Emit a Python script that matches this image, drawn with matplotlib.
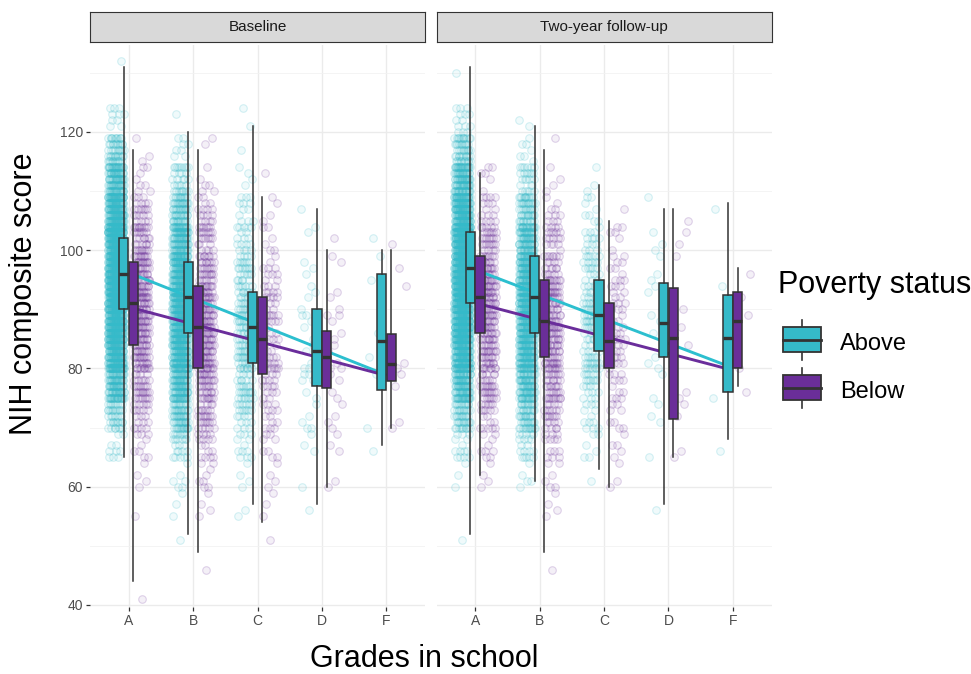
import matplotlib
matplotlib.use("Agg")
import matplotlib.pyplot as plt
from matplotlib.patches import Rectangle

plt.rcParams['font.family'] = ['Liberation Sans', 'DejaVu Sans']

# ---- data ----
grades = ['A', 'B', 'C', 'D', 'F']
periods = ['Baseline', 'Two-year follow-up']
groups = ['Above', 'Below']

# box stats per grade: [whisker low, q1, median, q3, whisker high]
base_above_box = [[65, 90, 96, 102, 131], [52, 86, 92, 98, 120], [57, 81, 87, 93, 121],
                  [57, 77, 83, 90, 107], [67, 76.3, 84.6, 96, 100]]
base_below_box = [[44, 84, 91, 98, 117], [49, 80, 87, 94, 117], [54, 79, 85, 92, 109],
                  [60, 76.7, 82, 86.3, 100], [70, 77.8, 80.7, 85.8, 100]]
fu_above_box = [[52, 91, 97, 103, 131], [61, 86, 92, 99, 121], [63, 83, 89, 95, 111],
                [57, 82, 87.7, 94.4, 107], [68, 76, 85.2, 92.5, 108]]
fu_below_box = [[62, 86, 92, 99, 113], [49, 82, 88, 95, 117], [60, 80, 84.6, 91, 105],
                [65, 71.5, 85.2, 93.6, 107], [77, 80, 88, 93, 97]]

# fitted regression line, value at grade A and at grade F
base_above_fit = [96.2, 78.9]
base_below_fit = [90.4, 78.8]
fu_above_fit = [96.7, 80.1]
fu_below_fit = [91.1, 79.7]

# raw scores as counts per 5-point bin (bins start at 40, 45, ..., 130)
bin_starts = list(range(40, 135, 5))
base_above_pts = [
    [0, 0, 0, 0, 0, 10, 40, 110, 180, 230, 260, 260, 240, 180, 110, 50, 10, 0, 1],
    [0, 0, 1, 3, 6, 25, 65, 110, 150, 170, 170, 150, 110, 65, 30, 8, 1, 0, 0],
    [0, 0, 0, 2, 4, 12, 22, 30, 38, 38, 33, 27, 18, 12, 4, 1, 2, 0, 0],
    [0, 0, 0, 1, 1, 3, 5, 6, 6, 5, 4, 3, 2, 1, 0, 0, 0, 0, 0],
    [0, 0, 0, 0, 0, 1, 1, 1, 1, 1, 0, 2, 1, 0, 0, 0, 0, 0, 0],
]
base_below_pts = [
    [1, 0, 0, 1, 4, 9, 20, 32, 45, 50, 50, 45, 35, 22, 8, 3, 0, 0, 0],
    [0, 1, 0, 4, 8, 16, 28, 40, 48, 48, 45, 35, 25, 16, 6, 2, 0, 0, 0],
    [0, 0, 1, 3, 4, 8, 13, 16, 18, 18, 16, 10, 6, 4, 1, 0, 0, 0, 0],
    [0, 0, 0, 0, 2, 3, 4, 4, 5, 5, 3, 2, 1, 0, 0, 0, 0, 0, 0],
    [0, 0, 0, 0, 0, 0, 2, 2, 2, 0, 1, 1, 1, 0, 0, 0, 0, 0, 0],
]
fu_above_pts = [
    [0, 0, 1, 0, 3, 14, 50, 110, 170, 220, 240, 240, 220, 170, 110, 50, 14, 0, 1],
    [0, 0, 0, 0, 5, 20, 55, 95, 130, 150, 150, 130, 95, 55, 25, 7, 2, 0, 0],
    [0, 0, 0, 0, 1, 6, 12, 21, 27, 30, 27, 21, 14, 8, 3, 0, 0, 0, 0],
    [0, 0, 0, 1, 0, 1, 3, 2, 3, 3, 3, 3, 3, 1, 0, 0, 0, 0, 0],
    [0, 0, 0, 0, 0, 1, 0, 1, 0, 0, 1, 0, 0, 1, 0, 0, 0, 0, 0],
]
fu_below_pts = [
    [0, 0, 0, 0, 4, 9, 19, 32, 40, 45, 45, 40, 29, 16, 6, 0, 0, 0, 0],
    [0, 1, 0, 4, 6, 13, 24, 35, 42, 42, 38, 29, 19, 10, 4, 1, 0, 0, 0],
    [0, 0, 0, 0, 3, 5, 8, 12, 14, 14, 13, 10, 6, 1, 0, 0, 0, 0, 0],
    [0, 0, 0, 0, 0, 2, 2, 2, 1, 2, 1, 1, 2, 1, 0, 0, 0, 0, 0],
    [0, 0, 0, 0, 0, 0, 0, 1, 1, 1, 1, 1, 0, 0, 0, 0, 0, 0, 0],
]

colours = {'Above': '#35BAC9', 'Below': '#6A2E99'}
line_colours = {'Above': '#2CBFCF', 'Below': '#6A2D9B'}

panels = [
    (periods[0], {'Above': (base_above_box, base_above_pts, base_above_fit),
                  'Below': (base_below_box, base_below_pts, base_below_fit)}),
    (periods[1], {'Above': (fu_above_box, fu_above_pts, fu_above_fit),
                  'Below': (fu_below_box, fu_below_pts, fu_below_fit)}),
]


def spread_points(counts, centre):
    """Place each counted score inside its bin, jittered sideways."""
    xs, ys = [], []
    k = 0
    for start, n in zip(bin_starts, counts):
        for _ in range(n):
            ys.append(start + int(5 * ((k * 0.7548777 + 0.3) % 1)))
            xs.append(centre + 0.25 * (((k * 0.5698403 + 0.5) % 1) - 0.5))
            k += 1
    return xs, ys


W, H = 971, 674
fig = plt.figure(figsize=(W / 100, H / 100), dpi=100)

panel_left = [90, 436.5]
panel_w = 335
panel_top, panel_bot = 45, 607

for p, (title, data) in enumerate(panels):
    ax = fig.add_axes([panel_left[p] / W, (H - panel_bot) / H,
                       panel_w / W, (panel_bot - panel_top) / H])
    xpos = list(range(len(grades)))

    for g, sign in zip(groups, [-1, 1]):
        box, pts, fit = data[g]
        # jittered raw points
        for i, counts in enumerate(pts):
            xs, ys = spread_points(counts, xpos[i] + sign * 0.2)
            ax.scatter(xs, ys, s=30, marker='o',
                       facecolors=matplotlib.colors.to_rgba(colours[g], 0.07),
                       edgecolors=matplotlib.colors.to_rgba(colours[g], 0.2),
                       linewidths=0.8, zorder=1)

    for g in groups:
        box, pts, fit = data[g]
        ax.plot([xpos[0], xpos[-1]], fit, color=line_colours[g], lw=2.1,
                solid_capstyle='butt', zorder=2)

    for g, sign in zip(groups, [-1, 1]):
        box = data[g][0]
        stats = [{'whislo': b[0], 'q1': b[1], 'med': b[2], 'q3': b[3],
                  'whishi': b[4], 'fliers': []} for b in box]
        ax.bxp(stats, positions=[x + sign * 0.075 for x in xpos], widths=0.145,
               patch_artist=True, showcaps=False, showfliers=False,
               boxprops=dict(facecolor=colours[g], edgecolor='#333333', linewidth=1.1),
               medianprops=dict(color='#333333', linewidth=2.4),
               whiskerprops=dict(color='#333333', linewidth=1.1),
               manage_ticks=False, zorder=3)

    ax.set_xlim(-0.6, 4.6)
    ax.set_ylim(39.66, 134.7)
    ax.set_xticks(xpos)
    ax.set_xticklabels(grades)
    ax.set_yticks([40, 60, 80, 100, 120])
    ax.set_yticks([50, 70, 90, 110, 130], minor=True)
    ax.grid(True, which='major', color='#EBEBEB', lw=1.0, zorder=0)
    ax.grid(True, which='minor', axis='y', color='#F2F2F2', lw=0.6, zorder=0)
    ax.set_axisbelow(True)
    for s in ax.spines.values():
        s.set_visible(False)
    ax.tick_params(axis='both', which='major', length=3, width=0.9, color='#333333',
                   labelcolor='#4D4D4D', labelsize=10, pad=2)
    ax.tick_params(axis='y', which='minor', length=0)
    if p == 1:
        ax.tick_params(axis='y', which='both', left=False, labelleft=False)

    # facet strip
    sax = fig.add_axes([panel_left[p] / W, (H - 42) / H, panel_w / W, 30 / H])
    sax.set_xticks([])
    sax.set_yticks([])
    sax.set_facecolor('#D9D9D9')
    for s in sax.spines.values():
        s.set_color('#333333')
        s.set_linewidth(0.8)
    sax.text(0.5, 0.5, title, ha='center', va='center', fontsize=11, color='#1A1A1A',
             transform=sax.transAxes)

# overlay in pixel coordinates for titles and legend
lax = fig.add_axes([0, 0, 1, 1])
lax.set_xlim(0, W)
lax.set_ylim(H, 0)
lax.axis('off')
lax.patch.set_alpha(0)

lax.text(24, 294, 'NIH composite score', rotation=90, ha='center', va='center',
         fontsize=22, color='black')
lax.text(424, 667, 'Grades in school', ha='center', va='baseline', fontsize=22, color='black')

lax.text(778, 293, 'Poverty status', ha='left', va='baseline', fontsize=22, color='black')
key_tops = [320, 368]
for g, top in zip(groups, key_tops):
    lax.plot([802, 802], [top, top + 40], color='#333333', lw=1.2)
    lax.add_patch(Rectangle((783, top + 7), 38, 25, facecolor=colours[g],
                            edgecolor='#333333', lw=1.3, zorder=3))
    lax.plot([783, 821], [top + 20, top + 20], color='#333333', lw=2.0, zorder=4)
    lax.text(840, top + 30, g, ha='left', va='baseline', fontsize=17, color='black')

fig.savefig('out.png', dpi=100)
